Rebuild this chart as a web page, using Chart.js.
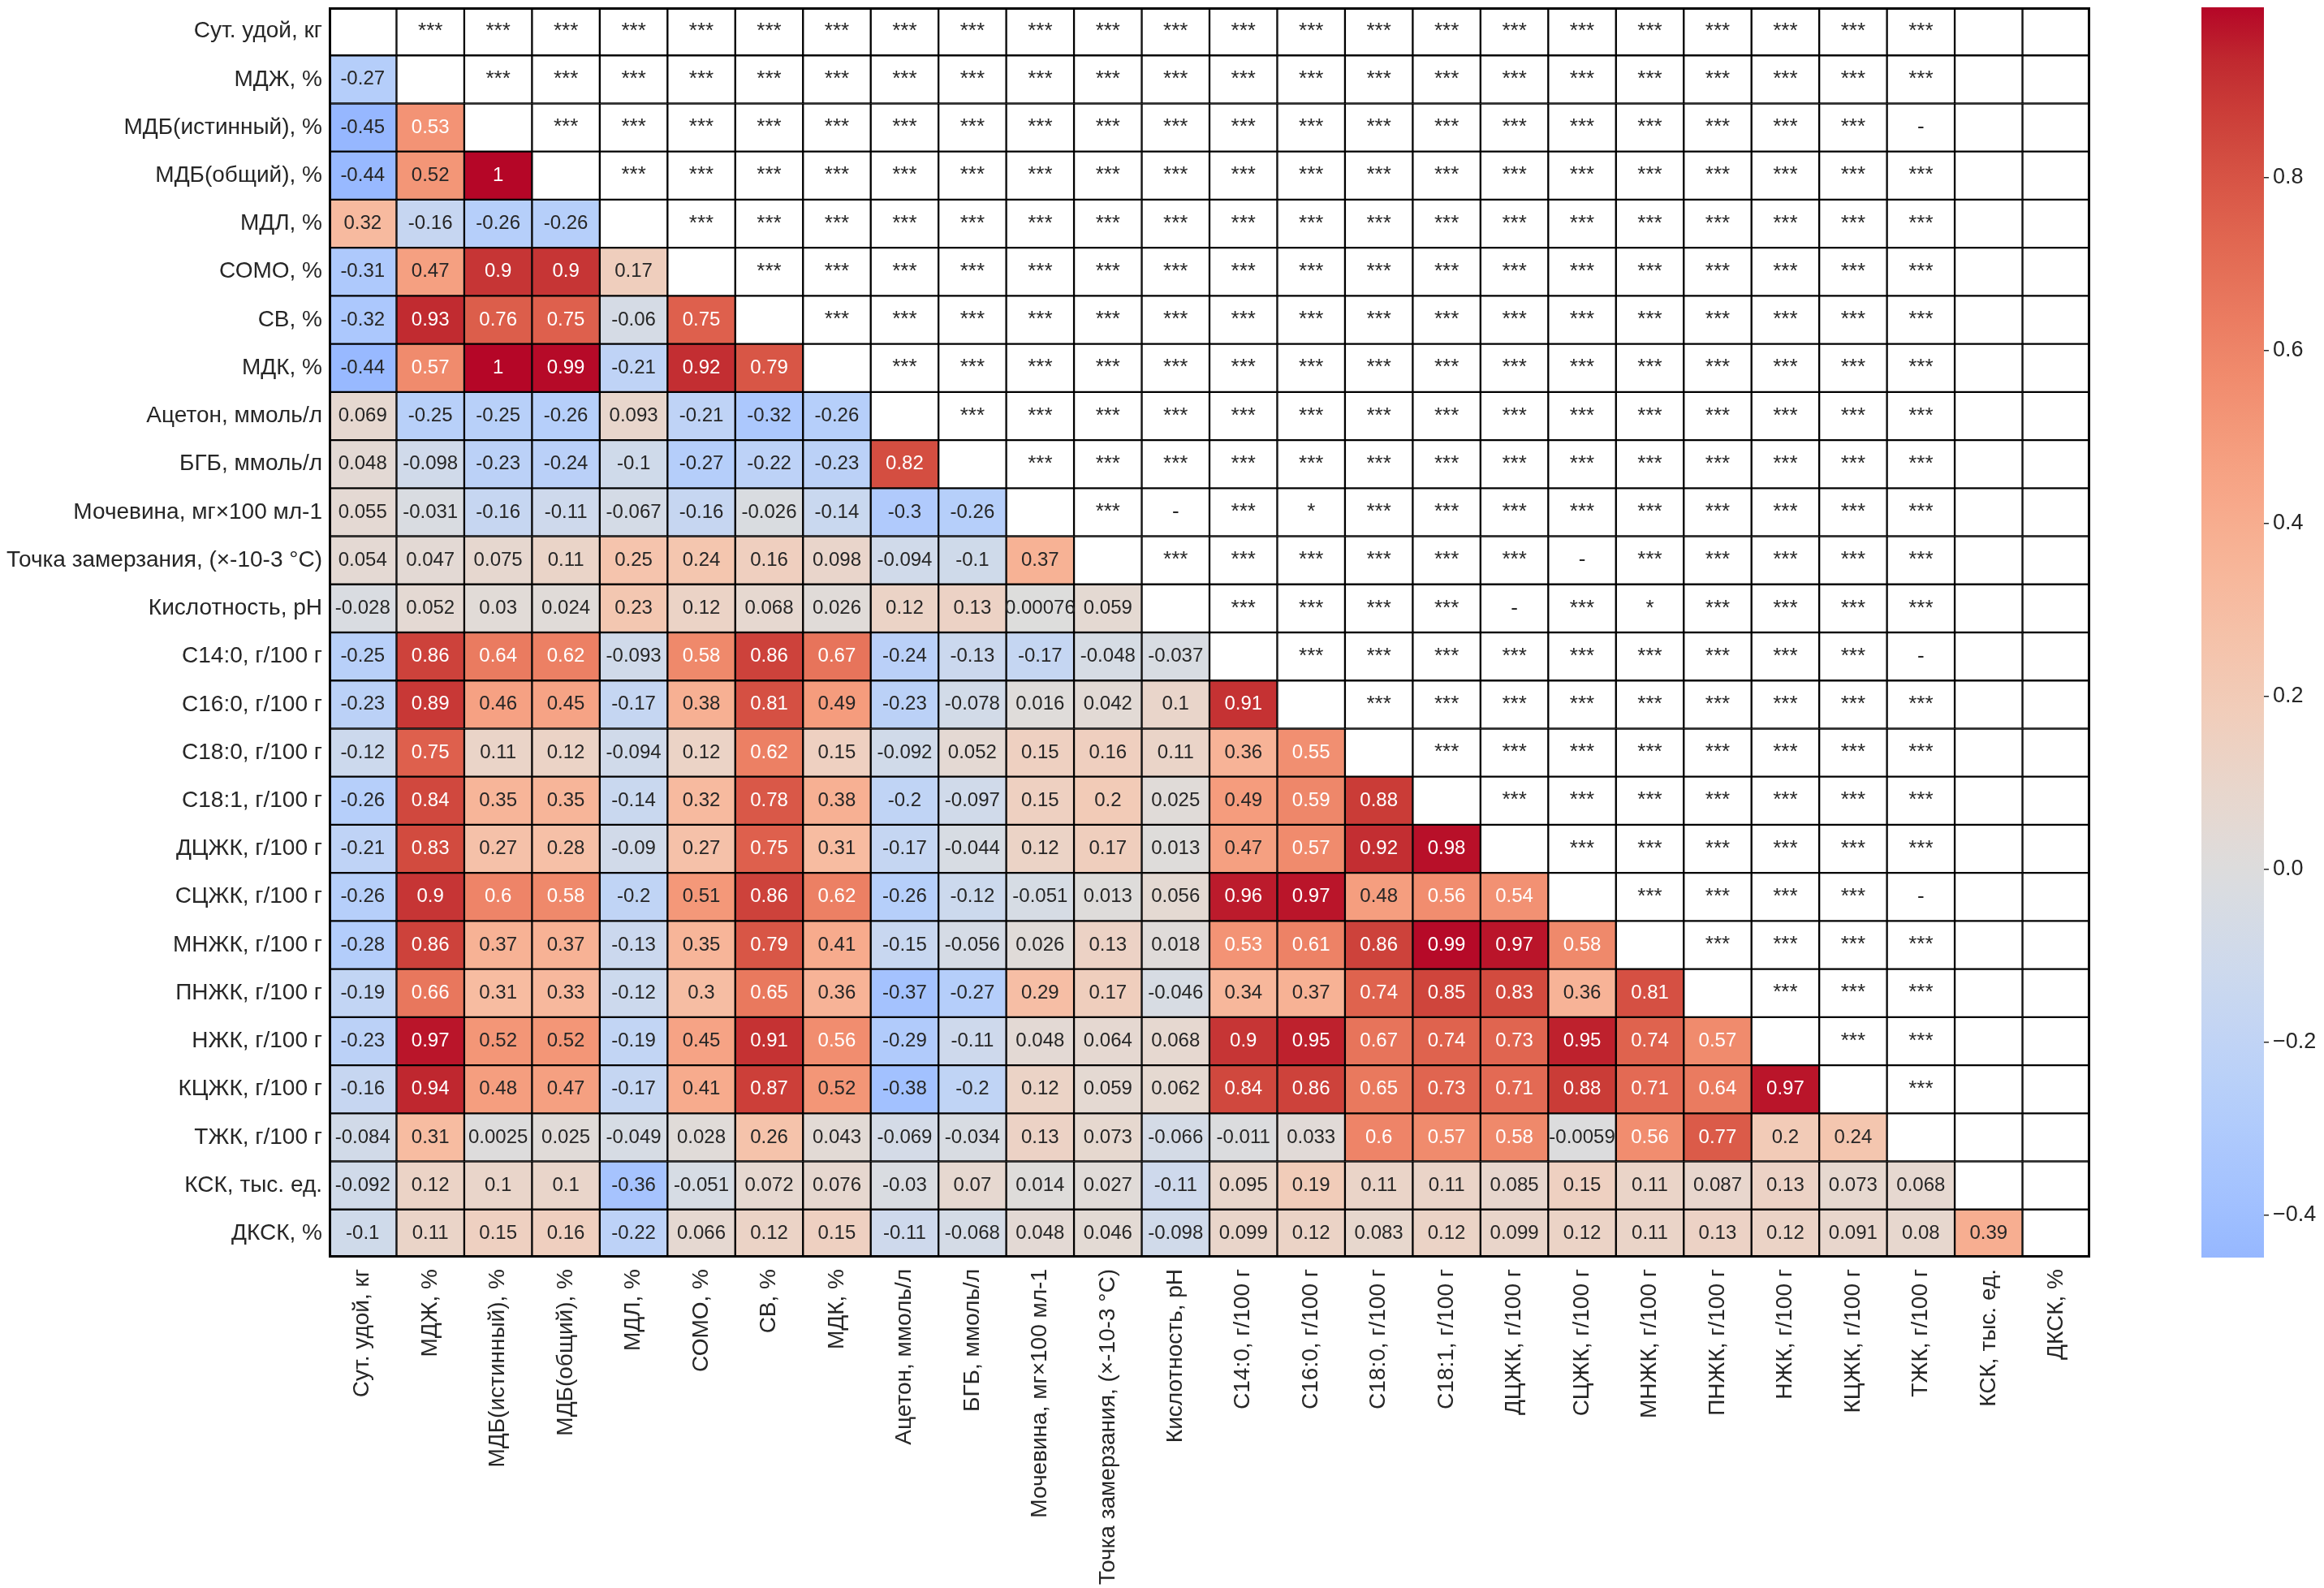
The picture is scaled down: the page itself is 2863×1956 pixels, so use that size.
<!DOCTYPE html>
<html>
<head>
<meta charset="utf-8">
<script src="https://cdn.jsdelivr.net/npm/chart.js@4.4.1/dist/chart.umd.min.js"></script>
<style>
  html, body { margin: 0; padding: 0; background: #fff; }
  #wrap { position: relative; width: 2863px; height: 1956px; }
  #heat { position: absolute; left: 0; top: 0; }
  #cbar { position: absolute; left: 2650px; top: 0; }
</style>
</head>
<body>
<div id="wrap">
  <canvas id="heat" width="2600" height="1956"></canvas>
  <canvas id="cbar" width="213" height="1956"></canvas>
</div>
<script>
// Переменные (строки и столбцы одинаковые)
const labels = [
  'Сут. удой, кг', 'МДЖ, %', 'МДБ(истинный), %', 'МДБ(общий), %', 'МДЛ, %', 'СОМО, %',
  'СВ, %', 'МДК, %', 'Ацетон, ммоль/л', 'БГБ, ммоль/л', 'Мочевина, мг×100 мл-1',
  'Точка замерзания, (×-10-3 °С)', 'Кислотность, pH', 'С14:0, г/100 г', 'С16:0, г/100 г',
  'С18:0, г/100 г', 'С18:1, г/100 г', 'ДЦЖК, г/100 г', 'СЦЖК, г/100 г', 'МНЖК, г/100 г',
  'ПНЖК, г/100 г', 'НЖК, г/100 г', 'КЦЖК, г/100 г', 'ТЖК, г/100 г', 'КСК, тыс. ед.', 'ДКСК, %'
];

// Нижний треугольник корреляционной матрицы (строка r, столбцы 0..r-1)
const corrRows = [
  [],
  [-0.27],
  [-0.45, 0.53],
  [-0.44, 0.52, 1],
  [0.32, -0.16, -0.26, -0.26],
  [-0.31, 0.47, 0.9, 0.9, 0.17],
  [-0.32, 0.93, 0.76, 0.75, -0.06, 0.75],
  [-0.44, 0.57, 1, 0.99, -0.21, 0.92, 0.79],
  [0.069, -0.25, -0.25, -0.26, 0.093, -0.21, -0.32, -0.26],
  [0.048, -0.098, -0.23, -0.24, -0.1, -0.27, -0.22, -0.23, 0.82],
  [0.055, -0.031, -0.16, -0.11, -0.067, -0.16, -0.026, -0.14, -0.3, -0.26],
  [0.054, 0.047, 0.075, 0.11, 0.25, 0.24, 0.16, 0.098, -0.094, -0.1, 0.37],
  [-0.028, 0.052, 0.03, 0.024, 0.23, 0.12, 0.068, 0.026, 0.12, 0.13, 0.00076, 0.059],
  [-0.25, 0.86, 0.64, 0.62, -0.093, 0.58, 0.86, 0.67, -0.24, -0.13, -0.17, -0.048, -0.037],
  [-0.23, 0.89, 0.46, 0.45, -0.17, 0.38, 0.81, 0.49, -0.23, -0.078, 0.016, 0.042, 0.1, 0.91],
  [-0.12, 0.75, 0.11, 0.12, -0.094, 0.12, 0.62, 0.15, -0.092, 0.052, 0.15, 0.16, 0.11, 0.36, 0.55],
  [-0.26, 0.84, 0.35, 0.35, -0.14, 0.32, 0.78, 0.38, -0.2, -0.097, 0.15, 0.2, 0.025, 0.49, 0.59, 0.88],
  [-0.21, 0.83, 0.27, 0.28, -0.09, 0.27, 0.75, 0.31, -0.17, -0.044, 0.12, 0.17, 0.013, 0.47, 0.57, 0.92, 0.98],
  [-0.26, 0.9, 0.6, 0.58, -0.2, 0.51, 0.86, 0.62, -0.26, -0.12, -0.051, 0.013, 0.056, 0.96, 0.97, 0.48, 0.56, 0.54],
  [-0.28, 0.86, 0.37, 0.37, -0.13, 0.35, 0.79, 0.41, -0.15, -0.056, 0.026, 0.13, 0.018, 0.53, 0.61, 0.86, 0.99, 0.97, 0.58],
  [-0.19, 0.66, 0.31, 0.33, -0.12, 0.3, 0.65, 0.36, -0.37, -0.27, 0.29, 0.17, -0.046, 0.34, 0.37, 0.74, 0.85, 0.83, 0.36, 0.81],
  [-0.23, 0.97, 0.52, 0.52, -0.19, 0.45, 0.91, 0.56, -0.29, -0.11, 0.048, 0.064, 0.068, 0.9, 0.95, 0.67, 0.74, 0.73, 0.95, 0.74, 0.57],
  [-0.16, 0.94, 0.48, 0.47, -0.17, 0.41, 0.87, 0.52, -0.38, -0.2, 0.12, 0.059, 0.062, 0.84, 0.86, 0.65, 0.73, 0.71, 0.88, 0.71, 0.64, 0.97],
  [-0.084, 0.31, 0.0025, 0.025, -0.049, 0.028, 0.26, 0.043, -0.069, -0.034, 0.13, 0.073, -0.066, -0.011, 0.033, 0.6, 0.57, 0.58, -0.0059, 0.56, 0.77, 0.2, 0.24],
  [-0.092, 0.12, 0.1, 0.1, -0.36, -0.051, 0.072, 0.076, -0.03, 0.07, 0.014, 0.027, -0.11, 0.095, 0.19, 0.11, 0.11, 0.085, 0.15, 0.11, 0.087, 0.13, 0.073, 0.068],
  [-0.1, 0.11, 0.15, 0.16, -0.22, 0.066, 0.12, 0.15, -0.11, -0.068, 0.048, 0.046, -0.098, 0.099, 0.12, 0.083, 0.12, 0.099, 0.12, 0.11, 0.13, 0.12, 0.091, 0.08, 0.39]
];

// Значимость (верхний треугольник): по умолчанию '***', кроме исключений
const starDefault = '***';
const starExceptions = [
  [2, 23, '-'], [10, 12, '-'], [10, 14, '*'], [11, 18, '-'],
  [12, 17, '-'], [12, 19, '*'], [13, 23, '-'], [18, 23, '-']
];
const noStarCols = [24, 25];

// Цветовая шкала
const vmin = -0.449, vmax = 0.997;
const cbTicks = [-0.4, -0.2, 0, 0.2, 0.4, 0.6, 0.8];

const FONT = '"Liberation Sans", Arial, sans-serif';
const TEXT = '#262626';
Chart.defaults.font.family = FONT;
Chart.defaults.color = TEXT;

// coolwarm (Moreland), 33 опорные точки
const COOLWARM = [
  [0.2298, 0.2987, 0.7537], [0.2662, 0.3531, 0.8015], [0.3039, 0.4065, 0.8450], [0.3428, 0.4588, 0.8837],
  [0.3830, 0.5094, 0.9174], [0.4244, 0.5581, 0.9456], [0.4667, 0.6046, 0.9682], [0.5096, 0.6483, 0.9848],
  [0.5530, 0.6889, 0.9954], [0.5963, 0.7261, 0.9998], [0.6392, 0.7596, 0.9982], [0.6813, 0.7890, 0.9904],
  [0.7222, 0.8140, 0.9766], [0.7615, 0.8343, 0.9569], [0.7987, 0.8498, 0.9317], [0.8335, 0.8602, 0.9011],
  [0.8650, 0.8650, 0.8650], [0.8978, 0.8489, 0.8209], [0.9241, 0.8274, 0.7745], [0.9445, 0.8009, 0.7267],
  [0.9589, 0.7698, 0.6780], [0.9673, 0.7341, 0.6288], [0.9700, 0.6943, 0.5794], [0.9668, 0.6504, 0.5303],
  [0.9580, 0.6028, 0.4818], [0.9437, 0.5518, 0.4342], [0.9239, 0.4973, 0.3880], [0.8990, 0.4396, 0.3432],
  [0.8692, 0.3783, 0.3003], [0.8346, 0.3129, 0.2593], [0.7956, 0.2413, 0.2205], [0.7525, 0.1572, 0.1841],
  [0.7057, 0.0156, 0.1502]
];

function coolwarmRGB(v) {
  const cl = Math.min(vmax, Math.max(vmin, v));
  const t = (cl + 1) / 2 * (COOLWARM.length - 1);
  const i = Math.min(COOLWARM.length - 2, Math.floor(t));
  const f = t - i;
  return COOLWARM[i].map((a, k) => a + (COOLWARM[i + 1][k] - a) * f);
}
function cellColor(v) {
  const [r, g, b] = coolwarmRGB(v);
  return `rgb(${Math.round(r * 255)},${Math.round(g * 255)},${Math.round(b * 255)})`;
}
function textColor(v) {
  const lin = coolwarmRGB(v).map(c => c <= 0.03928 ? c / 12.92 : Math.pow((c + 0.055) / 1.055, 2.4));
  const lum = 0.2126 * lin[0] + 0.7152 * lin[1] + 0.0722 * lin[2];
  return lum < 0.416 ? '#ffffff' : TEXT;
}
const fmt = v => String(Number(v.toPrecision(2)));

function starAt(r, c) {
  if (noStarCols.includes(c)) return '';
  const ex = starExceptions.find(e => e[0] === r && e[1] === c);
  return ex ? ex[2] : starDefault;
}

const n = labels.length;

// по одному набору на столбец, каждый бар — ячейка [c, c+1]
const datasets = labels.map((_, c) => ({
  data: labels.map(() => [c, c + 1]),
  backgroundColor: labels.map((_, r) => r > c ? cellColor(corrRows[r][c]) : '#ffffff'),
  borderColor: '#000000',
  borderWidth: 1.5,
  borderSkipped: false,
  barPercentage: 1,
  categoryPercentage: 1,
  grouped: false
}));

const cellText = {
  id: 'cellText',
  afterDatasetsDraw(chart) {
    const ctx = chart.ctx;
    const a = chart.chartArea;
    ctx.save();
    // внешняя рамка той же толщины, что и внутренние линии
    ctx.strokeStyle = '#000';
    ctx.lineWidth = 3;
    ctx.strokeRect(a.left + 1.5, a.top + 1.5, a.right - a.left - 3, a.bottom - a.top - 3);
    ctx.textAlign = 'center';
    ctx.textBaseline = 'middle';
    chart.data.datasets.forEach((ds, c) => {
      chart.getDatasetMeta(c).data.forEach((el, r) => {
        const p = el.getCenterPoint();
        let txt = '', color = TEXT, size = 24;
        if (r > c) { const v = corrRows[r][c]; txt = fmt(v); color = textColor(v); }
        else if (r < c) { txt = starAt(r, c); size = 26; }
        if (!txt) return;
        ctx.font = `${size}px ${FONT}`;
        ctx.fillStyle = color;
        ctx.fillText(txt, p.x, p.y);
      });
    });
    ctx.restore();
  }
};

new Chart(document.getElementById('heat'), {
  type: 'bar',
  data: { labels: labels, datasets: datasets },
  plugins: [cellText],
  options: {
    indexAxis: 'y',
    responsive: false,
    animation: false,
    layout: { padding: { top: 9, right: 25, left: 0, bottom: 0 } },
    plugins: { legend: { display: false }, tooltip: { enabled: false } },
    scales: {
      x: {
        type: 'linear', min: 0, max: n, position: 'bottom',
        grid: { display: false, drawTicks: false }, border: { display: false },
        afterBuildTicks: s => { s.ticks = labels.map((_, i) => ({ value: i + 0.5 })); },
        afterFit: s => { s.height = 407; s.paddingLeft = 0; s.paddingRight = 0; },
        ticks: {
          autoSkip: false, minRotation: 90, maxRotation: 90, padding: 14,
          font: { size: 28 }, color: TEXT,
          callback: (v, i) => labels[i]
        }
      },
      y: {
        grid: { display: false, drawTicks: false }, border: { display: false },
        afterFit: s => { s.width = 405; s.paddingTop = 0; s.paddingBottom = 0; },
        ticks: { autoSkip: false, padding: 8, font: { size: 28 }, color: TEXT }
      }
    }
  }
});

// Цветовая шкала
function barGradient(chart) {
  const { ctx, chartArea, scales } = chart;
  if (!chartArea) return null;
  const y0 = scales.y.getPixelForValue(vmin), y1 = scales.y.getPixelForValue(vmax);
  const g = ctx.createLinearGradient(0, y0, 0, y1);
  const steps = 48;
  for (let i = 0; i <= steps; i++) {
    g.addColorStop(i / steps, cellColor(vmin + (vmax - vmin) * i / steps));
  }
  return g;
}

new Chart(document.getElementById('cbar'), {
  type: 'bar',
  data: {
    labels: [''],
    datasets: [{
      data: [[vmin, vmax]],
      backgroundColor: ctx => barGradient(ctx.chart),
      borderWidth: 0,
      barPercentage: 1,
      categoryPercentage: 1
    }]
  },
  options: {
    responsive: false,
    animation: false,
    layout: { padding: { left: 62, top: 9, bottom: 407, right: 0 } },
    plugins: { legend: { display: false }, tooltip: { enabled: false } },
    scales: {
      x: { display: false },
      y: {
        position: 'right', min: vmin, max: vmax,
        border: { display: false },
        grid: { drawOnChartArea: false, drawTicks: true, tickLength: 6, color: TEXT, lineWidth: 1.5 },
        afterBuildTicks: s => { s.ticks = cbTicks.map(v => ({ value: v })); },
        afterFit: s => { s.width = 74; s.paddingTop = 0; s.paddingBottom = 0; },
        ticks: {
          padding: 5, font: { size: 27 }, color: TEXT,
          callback: v => (v < -1e-9 ? '\u2212' : '') + Math.abs(v).toFixed(1)
        }
      }
    }
  }
});
</script>
</body>
</html>
